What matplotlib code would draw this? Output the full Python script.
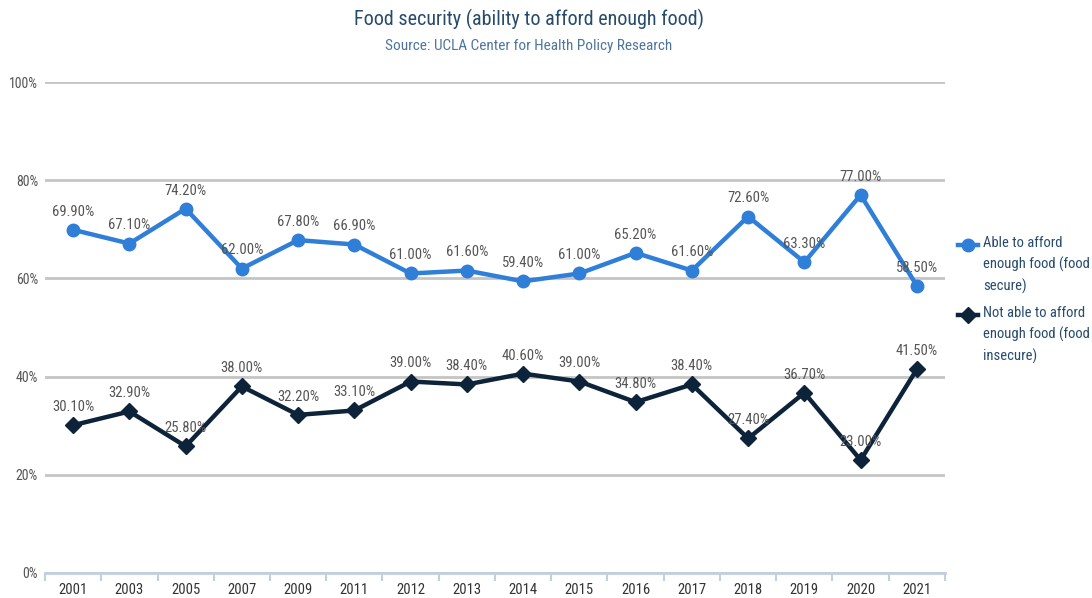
import matplotlib.pyplot as plt
from matplotlib import font_manager
from matplotlib.lines import Line2D

years = ["2001", "2003", "2005", "2007", "2009", "2011", "2012", "2013",
         "2014", "2015", "2016", "2017", "2018", "2019", "2020", "2021"]
secure = [69.9, 67.1, 74.2, 62.0, 67.8, 66.9, 61.0, 61.6,
          59.4, 61.0, 65.2, 61.6, 72.6, 63.3, 77.0, 58.5]
insecure = [30.1, 32.9, 25.8, 38.0, 32.2, 33.1, 39.0, 38.4,
            40.6, 39.0, 34.8, 38.4, 27.4, 36.7, 23.0, 41.5]
names = ["Able to afford\nenough food (food\nsecure)",
         "Not able to afford\nenough food (food\ninsecure)"]

# pick the narrowest font that is around
installed = {f.name for f in font_manager.fontManager.ttflist}
fams = [f for f in ["Roboto Condensed", "Liberation Sans Narrow", "DejaVu Sans Condensed",
                    "Roboto"] if f in installed]
plt.rcParams['font.family'] = fams + ["DejaVu Sans"]

blue = "#2f7ed8"
navy = "#0d233a"

W, H = 1092, 598
fig = plt.figure(figsize=(W / 100, H / 100), dpi=100)
ax = fig.add_axes([45 / W, 25 / H, 900 / W, 491 / H])

x = list(range(len(years)))
ax.plot(x, secure, color=blue, lw=3.2, marker="o", ms=9, zorder=3)
ax.plot(x, insecure, color=navy, lw=3.2, marker="D", ms=8, zorder=3)

for i in x:
    ax.annotate(f"{secure[i]:.2f}%", (i, secure[i]), xytext=(0, 8),
                textcoords="offset points", ha="center", va="bottom",
                fontsize=10.5, color="#555555", zorder=4)
    ax.annotate(f"{insecure[i]:.2f}%", (i, insecure[i]), xytext=(0, 8),
                textcoords="offset points", ha="center", va="bottom",
                fontsize=10.5, color="#555555", zorder=4)

ax.set_xlim(-0.5, len(years) - 0.5)
ax.set_ylim(0, 100)
ax.set_yticks([0, 20, 40, 60, 80, 100])
ax.set_yticklabels([f"{v}%" for v in [0, 20, 40, 60, 80, 100]])
ax.set_xticks(x)
ax.set_xticklabels(years)
ax.tick_params(axis="x", length=0, labelsize=10.5, labelcolor="#333333", pad=7)
ax.tick_params(axis="y", length=0, labelsize=10, labelcolor="#555555", pad=5)
ax.set_xticks([i + 0.5 for i in range(-1, len(years))], minor=True)
ax.tick_params(axis="x", which="minor", length=6, width=1.5, color="#c0d0e0")
ax.grid(axis="y", color="#c4c4c4", lw=2)
ax.set_axisbelow(True)
for s in ["top", "right", "left"]:
    ax.spines[s].set_visible(False)
ax.spines["bottom"].set_color("#c0d0e0")
ax.spines["bottom"].set_linewidth(2)
ax.spines["bottom"].set_zorder(2)

fig.text(529 / W, 1 - 19 / H, "Food security (ability to afford enough food)",
         ha="center", va="center", fontsize=14.5, color="#274b6d")
fig.text(529 / W, 1 - 46 / H, "Source: UCLA Center for Health Policy Research",
         ha="center", va="center", fontsize=11, color="#4d759e")

# legend drawn by hand so the marker sits on the first line
styles = [(blue, "o", 9), (navy, "D", 8)]
for k, (name, (c, m, s)) in enumerate(zip(names, styles)):
    yc = 1 - (245 + 70 * k) / H
    fig.add_artist(Line2D([958 / W, 978 / W], [yc, yc], color=c, lw=3.2,
                          transform=fig.transFigure))
    fig.add_artist(Line2D([968 / W], [yc], color=c, marker=m, ms=s,
                          transform=fig.transFigure))
    fig.text(983 / W, yc + 9 / H, name, ha="left", va="top", fontsize=10.5,
             color="#274b6d", linespacing=1.55)

fig.savefig("out.png", dpi=100)
